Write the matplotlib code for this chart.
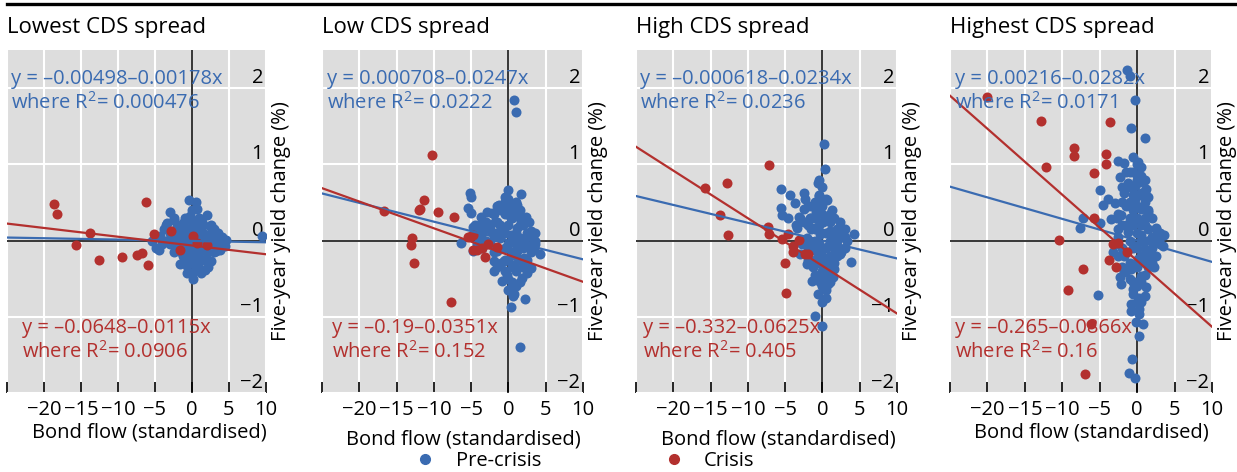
import matplotlib
matplotlib.use('Agg')
import matplotlib.pyplot as plt
import numpy as np

plt.rcParams['font.family'] = ['Open Sans', 'DejaVu Sans']

blue = '#3a6bb1'
red = '#b3302e'

titles = ['Lowest CDS spread', 'Low CDS spread', 'High CDS spread', 'Highest CDS spread']

# pre-crisis points (the dense cores are approximated)
lowest_pre_x = [-0.4, -3.0, 0.7, 2.0, -2.5, -3.4, -0.3, -1.2, 2.4, 3.5, 4.6, 4.4, -4.3, -4.9, -4.4, -5.4,
                -2.5, -1.2, -0.7, 1.1, 2.6, 1.7, -0.7, 0.2, 0.0, 3.3, 2.0, 0.6, -1.6, -2.9, 1.1, -0.3,
                -1.6, 2.9, 0.2, 1.3, -0.7, 0.4, 2.0, -0.7, -1.6, 0.8, -2.05, 1.5, 4.0, 9.5,
                -2.0, -1.0, 0.0, 1.0, -1.5, -0.5, 0.5, 1.5, 2.5, 3.0, -3.5, -2.0, -1.0, 0.0, 1.0, 2.0,
                3.5, -1.0, 0.0, 1.0, 2.0, 0.5, -0.3, 1.5, -3.8, -2.5, 0.5, -4.0,
                -3.5, -3.0, -3.0, -2.5, -2.5, -1.5, -1.5, -0.5, -0.5, -0.5, 0.5, 0.5, 0.5, 1.5,
                1.5, 2.5, 2.5, 3.0, 3.0, 4.0, -2.0, 0.0, 1.0, -1.0, -0.2, 1.2, 2.2, 3.8]
lowest_pre_y = [0.53, 0.37, 0.41, 0.34, 0.27, 0.23, 0.32, 0.23, 0.19, 0.10, 0.01, -0.07, 0.06, -0.10, -0.12, -0.01,
                -0.03, -0.20, -0.33, -0.27, -0.27, -0.39, -0.42, -0.51, -0.44, -0.14, 0.06, 0.14, 0.10, 0.06, -0.07, -0.12,
                -0.07, -0.03, 0.23, 0.25, 0.06, 0.01, -0.16, -0.20, -0.31, -0.35, 0.19, 0.10, -0.03, 0.06,
                0.15, 0.30, 0.40, 0.30, 0.00, 0.15, 0.20, 0.20, 0.10, 0.00, 0.00, -0.10, -0.05, -0.05, 0.00, -0.05,
                -0.05, -0.25, -0.20, -0.15, -0.25, -0.35, -0.30, -0.10, 0.15, 0.30, 0.50, -0.05,
                0.20, 0.10, -0.05, 0.05, -0.15, 0.15, -0.15, 0.30, 0.00, -0.15, 0.10, -0.10, -0.25, 0.05,
                -0.25, 0.20, -0.10, 0.15, -0.15, 0.05, 0.05, 0.25, 0.15, 0.10, -0.42, -0.42, -0.35, -0.12]
low_pre_x = [0.7, 1.0, 0.0, -5.2, -5.0, 1.7, -0.5, -5.4, -5.0, -3.7, -2.9, -2.2, -1.3, 1.2, 2.4, -4.7,
             -6.3, -4.8, -3.8, 3.0, 3.6, 4.3, 3.0, 2.5, -2.0, -0.9, 0.5, 1.0, 0.6, 2.2, 0.4, 1.5,
             -1.1, 0.3, 1.2, -2.4, -1.1, 0.3, 1.6, 2.5, -0.2, -1.5, 1.2, -0.6, 0.7, 2.1, -0.2, -3.3,
             -3.8, -0.2, 0.5, -1.8, 1.6, 3.4, -2.0, 1.8,
             -4.0, -3.0, -3.0, -2.0, -2.0, -2.0, -1.0, -1.0, 0.0, 0.0, 0.0, 0.0, 0.0, 1.0, 1.0, 1.0,
             1.0, 2.0, 2.0, 2.0, 2.0, 3.0, 3.0, -0.5, 0.5, 0.5, -0.5, 1.5, 0.8, -1.5, -4.2, 2.7,
             -4.5, -3.5, -3.5, -2.5, -2.5, -1.5, -1.5, -1.5, -1.5, -0.5, -0.5, -0.5, -0.5, 0.5, 0.5, 0.5,
             0.5, 1.5, 1.5, 1.5, 1.5, 2.5, 2.5, 3.5, 3.5, -1.0, 0.0, 1.0, 1.0, 0.0, -4.0]
low_pre_y = [1.84, 1.69, 0.66, 0.62, 0.57, 0.61, 0.57, 0.43, 0.36, 0.31, 0.38, 0.36, 0.47, 0.47, 0.31, 0.18,
             -0.03, -0.14, 0.20, 0.12, -0.01, -0.17, -0.36, -0.43, -0.40, -0.53, -0.60, -0.60, -0.73, -0.77, -0.87, -1.40,
             0.20, 0.29, 0.16, 0.12, 0.03, 0.07, 0.03, -0.06, -0.10, -0.14, -0.14, -0.27, -0.32, -0.23, -0.45, 0.16,
             0.03, 0.47, 0.38, 0.25, 0.29, -0.10, -0.27, -0.49,
             0.10, 0.00, 0.25, 0.35, 0.05, -0.15, 0.40, -0.30, 0.55, 0.20, -0.05, -0.25, -0.50, 0.35, 0.10, -0.05,
             -0.40, 0.20, 0.00, -0.10, -0.35, 0.05, -0.15, 0.35, 0.45, -0.15, -0.40, -0.55, -0.70, 0.25, -0.05, 0.25,
             0.20, 0.10, -0.10, 0.20, -0.05, 0.45, 0.10, -0.10, -0.35, 0.50, 0.10, -0.10, -0.25, 0.30, 0.05, -0.35,
             -0.55, 0.40, 0.20, -0.05, -0.25, 0.10, -0.25, 0.10, -0.05, 0.15, 0.35, 0.50, -0.20, -0.65, -0.10]
high_pre_x = [0.2, 0.3, -0.6, -5.5, -4.4, -2.5, -2.3, -3.7, -5.5, -5.4, -4.6, -3.2, -3.4, 0.6, 1.25, 2.4,
              4.2, 3.3, 3.8, 2.4, 1.5, 1.4, 0.8, -1.4, 0.5, -0.6, -2.1, -3.0, -1.0, -0.1,
              -0.8, 0.1, -1.2, -0.3, 1.0, 1.9, -1.65, -0.8, 0.6, 1.5, -0.1, -1.2, 0.6, -2.1, -0.5,
              -1.65, -2.5, 2.8, -0.3,
              -3.0, -2.0, -2.0, -2.0, -1.0, -1.0, -1.0, -1.0, -1.0, 0.0, 0.0, 0.0, 0.0, 0.0, 0.0, 0.0,
              0.0, 1.0, 1.0, 1.0, 1.0, 1.0, 2.0, 2.0, 2.0, 3.0, 3.0, -0.5, 0.5, -0.3, 1.5, -1.5, -2.8,
              -3.5, -2.5, -2.5, -1.5, -1.5, -1.5, -1.5, -0.5, -0.5, -0.5, -0.5, -0.5, 0.5, 0.5, 0.5, 0.5,
              0.5, 0.5, 1.5, 1.5, 1.5, 2.5, 2.5, 3.0, -1.0, 0.0, 1.0, 0.0, 1.0, -2.0]
high_pre_y = [1.27, 0.94, 0.75, 0.67, 0.60, 0.62, 0.55, 0.49, 0.43, 0.34, 0.29, 0.31, 0.16, 0.53, 0.40, 0.25,
              0.08, -0.01, -0.28, -0.18, -0.37, -0.48, -0.57, -0.53, -0.65, -0.70, -0.31, -0.18, -0.99, -1.12,
              0.38, 0.25, 0.16, 0.08, 0.12, -0.01, -0.01, -0.14, -0.09, -0.22, -0.31, -0.35, -0.44, 0.03, 0.59,
              0.29, 0.42, 0.12, -0.48,
              0.30, 0.20, 0.45, -0.10, 0.50, 0.30, 0.00, -0.25, -0.45, 0.70, 0.45, 0.35, 0.10, -0.10, -0.20, -0.40,
              -0.60, 0.35, 0.25, 0.00, -0.20, -0.35, 0.15, -0.10, -0.20, 0.05, -0.10, 0.80, -0.75, -0.55, 0.05, 0.15, -0.05,
              0.20, 0.25, 0.00, 0.45, 0.30, -0.10, -0.30, 0.60, 0.40, 0.20, -0.05, -0.30, 0.55, 0.30, 0.10, -0.10,
              -0.30, -0.50, 0.30, -0.10, -0.30, 0.05, -0.15, 0.15, 0.15, 0.55, 0.10, -0.80, -0.55, -0.25]
highest_pre_x = [-1.4, -1.0, -0.35, -0.8, 1.0, -2.5, -1.7, 0.1, 0.5, 0.0, -2.25, 0.4, -5.0, 1.2, -3.9, -4.5,
                 -2.9, 1.4, -7.2, -7.7, -4.9, 1.4, 2.5, 3.6, 3.4, 2.3, -3.2, -2.3, -2.1, -0.6, 1.2, 1.06,
                 0.3, -5.2, -0.8, -0.8, 0.3, 0.75, -0.1, 0.2, -0.7, -1.1, -0.35,
                 -1.7, -0.35, 0.5, -2.1, -0.8, 1.0, -2.6, -1.2, 0.5, 1.9, -0.35, 1.0, -1.7, 0.1, 1.4, -0.8,
                 0.5, -1.7, -0.1, -3.45, -1.2, 0.5, -1.2, -0.35, 2.7,
                 -2.0, -2.0, -2.0, -2.0, -1.0, -1.0, -1.0, -1.0, -1.0, -1.0, 0.0, 0.0, 0.0, 0.0, 0.0, 0.0,
                 0.0, 1.0, 1.0, 1.0, 1.0, 1.0, 1.0, 2.0, 2.0, 2.0, 2.0, 3.0, 3.0, -0.5, 0.5, -1.5, -2.7,
                 -3.0, -0.5, 0.3,
                 -2.5, -2.5, -2.5, -1.5, -1.5, -1.5, -1.5, -1.5, -0.5, -0.5, -0.5, -0.5, -0.5, -0.5, -0.5, 0.5,
                 0.5, 0.5, 0.5, 0.5, 0.5, 1.5, 1.5, 1.5, 1.5, 2.5, 2.5, 3.0, 0.0, 0.0, -2.0, -1.0, 1.0, 0.0]
highest_pre_y = [2.24, 2.16, 1.85, 1.48, 1.34, 1.04, 1.02, 1.03, 0.96, 0.86, 0.83, 0.77, 0.66, 0.67, 0.54, 0.46,
                 0.49, 0.57, 0.29, 0.17, 0.23, 0.37, 0.17, 0.07, -0.07, -0.35, -0.15, -0.48, -0.57, -0.63, -0.61, -0.73,
                 -0.76, -0.71, -0.83, -0.93, -0.96, -1.10, -1.07, -1.25, -1.55, -1.74, -1.80,
                 0.63, 0.54, 0.41, 0.33, 0.28, 0.20, 0.15, 0.11, 0.07, 0.02, -0.07, -0.11, -0.20, -0.24, -0.20, -0.37,
                 -0.46, -0.41, -0.54, 0.28, 0.46, 0.63, 0.76, 0.72, -0.02,
                 0.50, 0.20, -0.10, -0.35, 0.90, 0.50, 0.30, 0.00, -0.30, -0.50, 0.80, 0.60, 0.30, 0.10, -0.10, -0.35,
                 -0.60, 0.80, 0.50, 0.30, 0.00, -0.30, -0.45, 0.30, 0.05, -0.10, -0.30, 0.10, -0.05, 1.10, -0.80, 0.70, 0.30,
                 -0.05, -0.70, -0.90,
                 0.35, 0.05, -0.20, 0.90, 0.45, 0.20, -0.15, -0.40, 0.90, 0.60, 0.40, 0.20, -0.10, -0.35, -0.55, 0.85,
                 0.60, 0.20, 0.00, -0.20, -0.55, 0.40, 0.15, -0.15, -0.35, 0.15, -0.20, 0.05, 1.00, -0.80, 0.70, 0.70,
                 0.65, 0.45]

# crisis points
lowest_cri_x = [-18.6, -18.2, -6.2, -13.8, -2.8, -5.2, 0.1, -15.7, -12.6, -9.4, -7.4, -6.8, -5.9, -1.6, 0.7, 2.0]
lowest_cri_y = [0.48, 0.35, 0.51, 0.10, 0.13, 0.08, 0.06, -0.06, -0.26, -0.21, -0.19, -0.16, -0.32, -0.12, -0.03, -0.06]
low_cri_x = [-10.3, -16.7, -11.3, -12.0, -11.8, -9.5, -7.3, -5.0, -12.9, -13.0, -12.6, -7.7, -4.8, -4.8,
             -4.2, -3.5, -3.1, -2.8, -1.5, -5.4]
low_cri_y = [1.12, 0.39, 0.53, 0.40, 0.42, 0.38, 0.31, 0.06, 0.03, -0.06, -0.30, -0.81, 0.07, -0.12,
             -0.13, -0.10, -0.21, -0.05, -0.08, 0.05]
high_cri_x = [-7.1, -12.8, -15.8, -13.8, -7.3, -12.7, -4.6, -7.1, -5.4, -3.9, -3.9, -3.2, -2.4, -1.9, -5.0, -4.9]
high_cri_y = [0.99, 0.75, 0.69, 0.34, 0.18, 0.07, 0.09, 0.09, 0.02, -0.07, -0.15, 0.01, -0.17, -0.18, -0.30, -0.69]
highest_cri_x = [-20.0, -12.9, -3.6, -8.5, -8.5, -4.2, -4.2, -12.2, -5.7, -5.8, -10.5, -3.2, -2.5, -1.3,
                 -3.7, -2.8, -7.2, -9.3, -6.2, -6.9]
highest_cri_y = [1.88, 1.57, 1.56, 1.21, 1.11, 1.13, 1.00, 0.97, 0.89, 0.30, 0.01, -0.05, -0.03, -0.15,
                 -0.25, -0.35, -0.37, -0.65, -1.10, -1.75]

pre_x = [lowest_pre_x, low_pre_x, high_pre_x, highest_pre_x]
pre_y = [lowest_pre_y, low_pre_y, high_pre_y, highest_pre_y]
cri_x = [lowest_cri_x, low_cri_x, high_cri_x, highest_cri_x]
cri_y = [lowest_cri_y, low_cri_y, high_cri_y, highest_cri_y]

# regression results
pre_intercept = [-0.00498, 0.000708, -0.000618, 0.00216]
pre_slope = [-0.00178, -0.0247, -0.0234, -0.0282]
pre_r2 = [0.000476, 0.0222, 0.0236, 0.0171]
cri_intercept = [-0.0648, -0.19, -0.332, -0.265]
cri_slope = [-0.0115, -0.0351, -0.0625, -0.0866]
cri_r2 = [0.0906, 0.152, 0.405, 0.16]

xticks = [-25, -20, -15, -10, -5, 0, 5, 10]
yticks = [-2, -1, 0, 1, 2]

# layout in pixels
W, H = 1237, 472
lefts = [7, 322, 636, 950]
widths = [259, 261, 261, 262]
ax_top, ax_bot = 50, 393
blue_tx = [0.015, 0.02, 0.015, 0.02]
red_tx = [0.058, 0.04, 0.027, 0.02]
xlab_x = [0.55, 0.54, 0.545, 0.54]
xlab_y = [-0.085, -0.105, -0.105, -0.085]


def num(v):
    s = str(abs(v))
    return ('–' + s) if v < 0 else s


def eq(a, b, r2):
    return 'y = ' + num(a) + num(b) + 'x\nwhere R$^{\\mathregular{2}}$= ' + str(r2)


fig = plt.figure(figsize=(W / 100, H / 100), dpi=100)
fig.add_artist(plt.Line2D([7 / W, 1], [1 - 4 / H, 1 - 4 / H], color='black', lw=2.4,
                          transform=fig.transFigure))

for i in range(4):
    ax = fig.add_axes([lefts[i] / W, (H - ax_bot) / H, widths[i] / W, (ax_bot - ax_top) / H])
    ax.set_facecolor('#dddddd')
    ax.set_xlim(-25, 10)
    ax.set_ylim(-2, 2.5)
    for s in ax.spines.values():
        s.set_visible(False)
    ax.set_xticks(xticks)
    ax.set_xticklabels([''] + ['−' + str(-t) if t < 0 else str(t) for t in xticks[1:]])
    ax.set_yticks(yticks)
    ax.set_yticklabels(['−2', '−1', '0', '1', '2'])
    ax.grid(True, color='white', lw=1.5)
    ax.set_axisbelow(True)
    ax.tick_params(axis='x', direction='in', length=8, width=1.2, color='black', pad=5, labelsize=14.5)
    ax.tick_params(axis='y', length=0, labelleft=False, labelright=True, pad=-2, labelsize=14.5)
    for lab in ax.get_yticklabels():
        lab.set_ha('right')
        lab.set_va('bottom')
    ax.axhline(0, color='black', lw=1.1, zorder=1.5)
    ax.axvline(0, color='black', lw=1.1, zorder=1.5)

    ax.scatter(pre_x[i], pre_y[i], s=52, color=blue, linewidths=0, zorder=2)
    ax.scatter(cri_x[i], cri_y[i], s=52, color=red, linewidths=0, zorder=3)
    xs = np.array([-25, 10])
    ax.plot(xs, pre_intercept[i] + pre_slope[i] * xs, color=blue, lw=1.6, zorder=4)
    ax.plot(xs, cri_intercept[i] + cri_slope[i] * xs, color=red, lw=1.6, zorder=4)

    ax.text(blue_tx[i], 0.945, eq(pre_intercept[i], pre_slope[i], pre_r2[i]), transform=ax.transAxes,
            color=blue, fontsize=14.5, va='top', ha='left', linespacing=1.15, zorder=5)
    ax.text(red_tx[i], 0.218, eq(cri_intercept[i], cri_slope[i], cri_r2[i]), transform=ax.transAxes,
            color=red, fontsize=14.5, va='top', ha='left', linespacing=1.15, zorder=5)

    ax.set_xlabel('Bond flow (standardised)', fontsize=14.5)
    ax.xaxis.set_label_coords(xlab_x[i], xlab_y[i])
    ax.yaxis.set_label_position('right')
    ax.set_ylabel('Five-year yield change (%)', fontsize=14.5)
    ax.yaxis.set_label_coords(1.02, 0.5)

    fig.text(lefts[i] / W, 1 - 27 / H, titles[i], fontsize=16, ha='left', va='center')

h1 = plt.Line2D([], [], marker='o', ls='', color=blue, markersize=7)
h2 = plt.Line2D([], [], marker='o', ls='', color=red, markersize=7)
fig.legend([h1, h2], ['Pre-crisis', 'Crisis'], ncol=2, frameon=False, fontsize=14.5,
           loc='center', bbox_to_anchor=(580 / W, 11 / H), columnspacing=5.6, handletextpad=0.5,
           borderpad=0, borderaxespad=0)

fig.savefig('out.png', dpi=100)
